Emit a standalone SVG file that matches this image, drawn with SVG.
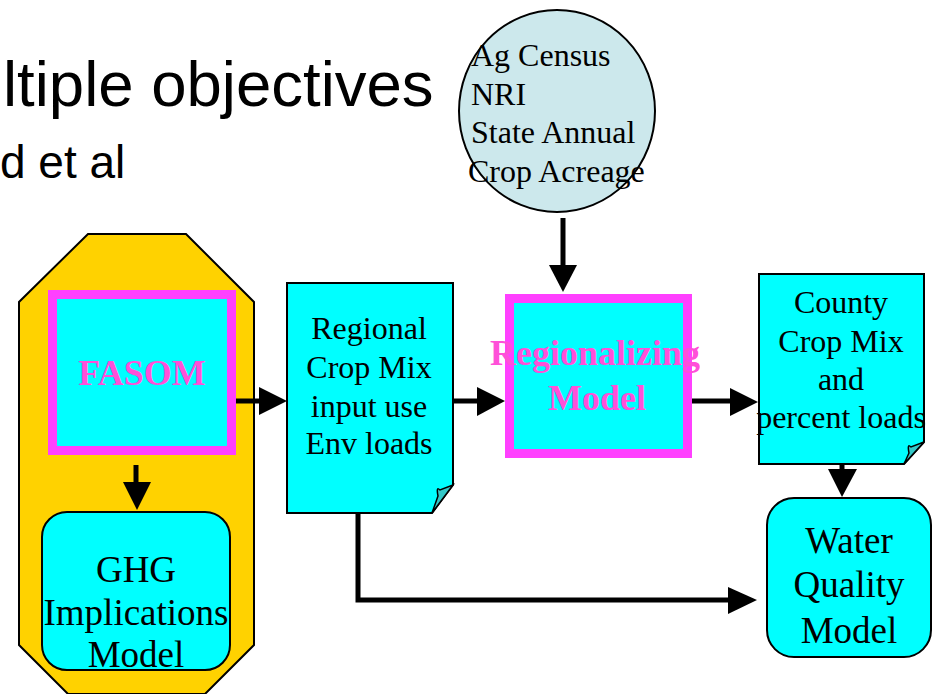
<svg xmlns="http://www.w3.org/2000/svg" width="940" height="694" viewBox="0 0 940 694">
<style>
.title{font-family:"Liberation Sans",Arial,sans-serif;fill:#000}
.serif{font-family:"Liberation Serif","Times New Roman",serif;fill:#000}
.bold{font-family:"Liberation Serif","Times New Roman",serif;font-weight:bold;fill:#ff50d8}
.box{fill:#00ffff;stroke:#000;stroke-width:2}
.mag{fill:#00ffff;stroke:#ff40ff;stroke-width:9}
.fold{fill:#33c8c8;stroke:#000;stroke-width:1.5}
.conn{fill:none;stroke:#000;stroke-width:5}
.head{fill:#000}
</style>
<rect width="940" height="694" fill="#fff"/>
<g id="title">
<text class="title" x="3" y="106" font-size="63.5">ltiple objectives</text>
<text class="title" x="0" y="178" font-size="46">d et al</text>
</g>
<g id="sources">
<ellipse cx="557" cy="111" rx="98" ry="101" fill="#cce8ec" stroke="#000" stroke-width="2"/>
<text class="serif" font-size="32" x="471" y="66">Ag Census</text>
<text class="serif" font-size="32" x="471" y="105">NRI</text>
<text class="serif" font-size="32" x="471" y="143">State Annual</text>
<text class="serif" font-size="32" x="468" y="182">Crop Acreage</text>
</g>
<g id="fasom-group">
<polygon points="88,234 186,234 254,302 254,645 205,694 68,694 19,645 19,302" fill="#ffd200" stroke="#000" stroke-width="2"/>
</g>
<g id="fasom">
<rect class="mag" x="52.5" y="294.5" width="179" height="156"/>
<text class="bold" font-size="36" x="142" y="385" text-anchor="middle">FASOM</text>
</g>
<g id="ghg">
<rect class="box" x="42" y="512" width="188" height="158" rx="25"/>
<text class="serif" font-size="37" x="136" y="582" text-anchor="middle">GHG</text>
<text class="serif" font-size="37" x="136" y="625" text-anchor="middle">Implications</text>
<text class="serif" font-size="37" x="136" y="667" text-anchor="middle">Model</text>
</g>
<g id="regional">
<path class="box" d="M287,283 H453 V485 L432,513 H287 Z"/>
<path class="fold" d="M453,485 L440,490 Q436,486 438,496 L432,513 Z"/>
<text class="serif" font-size="32" x="369" y="339" text-anchor="middle">Regional</text>
<text class="serif" font-size="32" x="369" y="378" text-anchor="middle">Crop Mix</text>
<text class="serif" font-size="32" x="369" y="417" text-anchor="middle">input use</text>
<text class="serif" font-size="32" x="369" y="454" text-anchor="middle">Env loads</text>
</g>
<g id="regionalizing">
<rect class="mag" x="509.5" y="298.5" width="178" height="155"/>
<text class="bold" font-size="36" x="595" y="365" text-anchor="middle">Regionalizing</text>
<text class="bold" font-size="36" x="597" y="410" text-anchor="middle">Model</text>
</g>
<g id="county">
<path class="box" d="M759,274 H924 V442 L904,464 H759 Z"/>
<path class="fold" d="M924,442 L911,447 Q907,443 909,453 L904,464 Z"/>
<text class="serif" font-size="32" x="841" y="313" text-anchor="middle">County</text>
<text class="serif" font-size="32" x="841" y="352" text-anchor="middle">Crop Mix</text>
<text class="serif" font-size="32" x="841" y="390" text-anchor="middle">and</text>
<text class="serif" font-size="32" x="841" y="428" text-anchor="middle">percent loads</text>
</g>
<g id="water">
<rect class="box" x="767" y="498" width="164" height="159" rx="27"/>
<text class="serif" font-size="37" x="849" y="553" text-anchor="middle">Water</text>
<text class="serif" font-size="37" x="849" y="597" text-anchor="middle">Quality</text>
<text class="serif" font-size="37" x="849" y="643" text-anchor="middle">Model</text>
</g>
<g id="connectors">
<line class="conn" x1="563" y1="218" x2="563" y2="266"/>
<polygon class="head" points="549,265 577,265 563,292"/>
<line class="conn" x1="236" y1="401" x2="260" y2="401"/>
<polygon class="head" points="259,387 259,415 287,401"/>
<line class="conn" x1="136" y1="465" x2="136" y2="484"/>
<polygon class="head" points="123,482 151,482 137,510"/>
<line class="conn" x1="453" y1="401" x2="479" y2="401"/>
<polygon class="head" points="477,387 477,416 505,401"/>
<line class="conn" x1="692" y1="401" x2="732" y2="401"/>
<polygon class="head" points="730,388 730,416 758,402"/>
<line class="conn" x1="842" y1="464" x2="842" y2="471"/>
<polygon class="head" points="828,469 857,469 842,497"/>
<polyline class="conn" points="358,513 358,600 730,600"/>
<polygon class="head" points="728,587 728,614 757,600"/>
</g>
</svg>
